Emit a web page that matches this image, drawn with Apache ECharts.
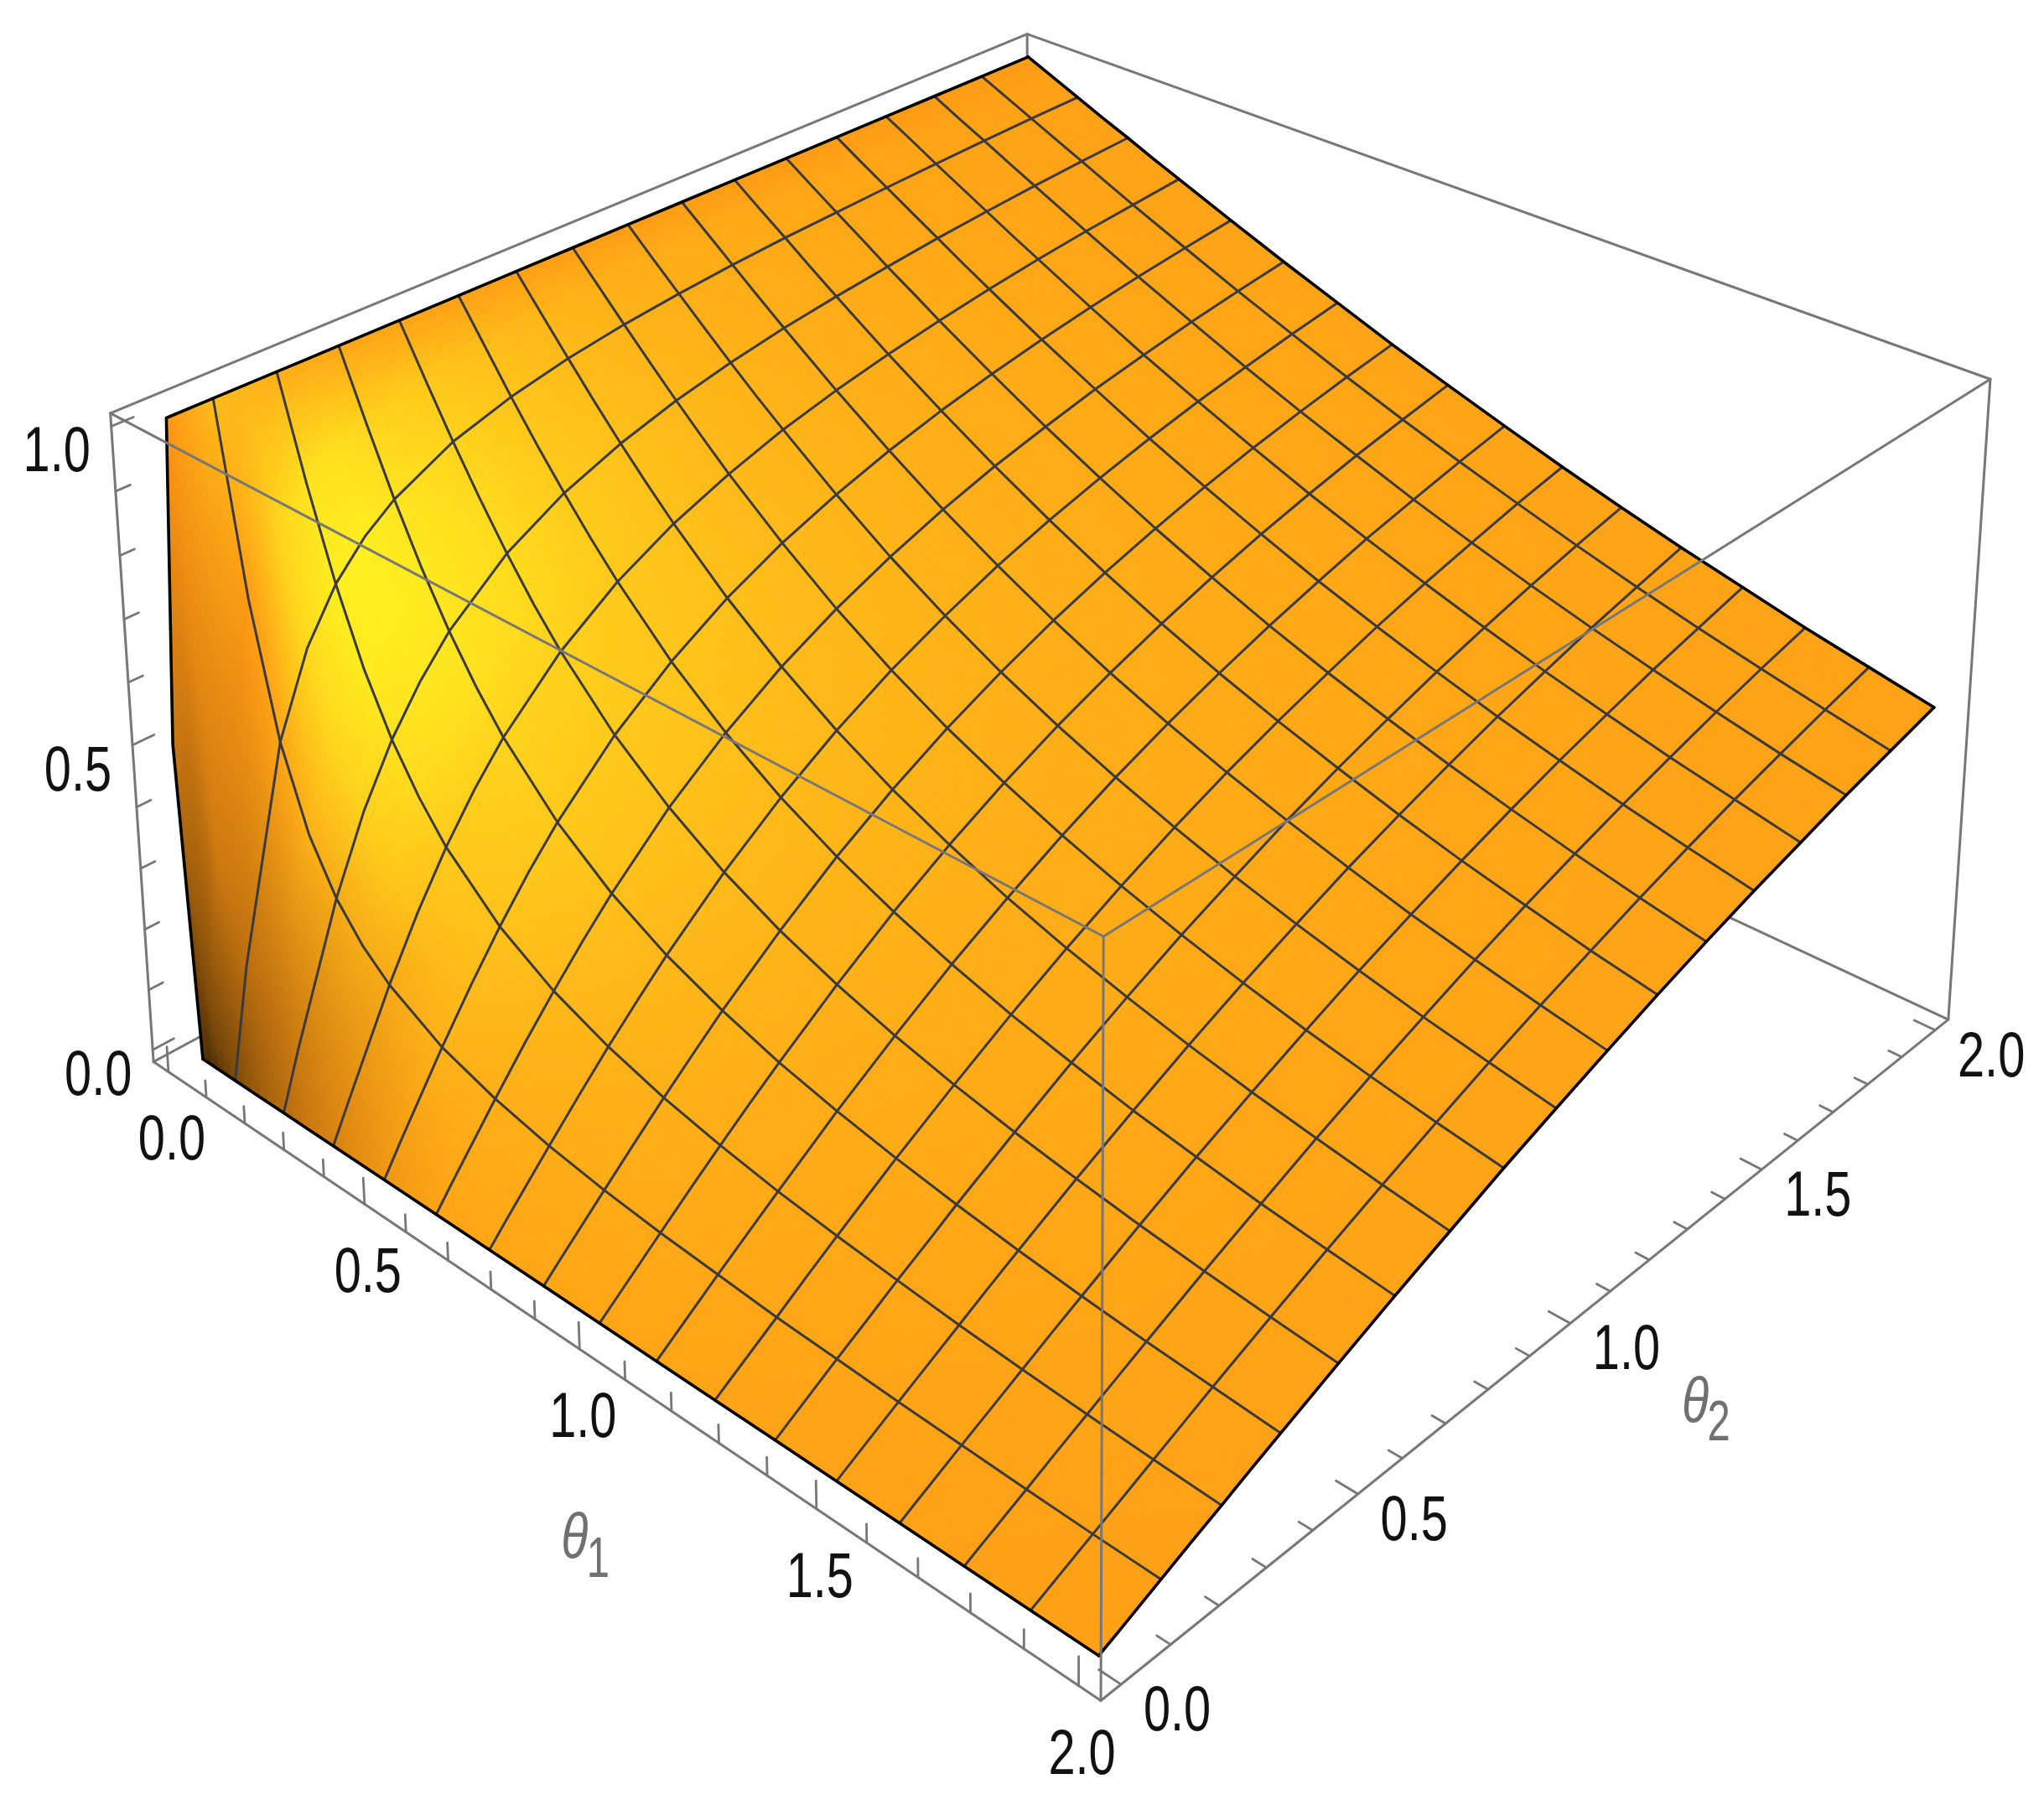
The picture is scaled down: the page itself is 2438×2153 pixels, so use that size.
<!DOCTYPE html>
<html><head><meta charset="utf-8"><style>html,body{margin:0;padding:0;background:#fff}#c{width:2438px;height:2153px}</style>
<script src="https://cdn.jsdelivr.net/npm/echarts@6/dist/echarts.min.js"></script></head>
<body><div id="c"></div>
<script>
// ---- values ----
const theta1Nodes=[0,0.0625,0.125,0.1875,0.25,0.3125,0.375,0.5,0.625,0.75,0.875,1,1.125,1.25,1.375,1.5,1.625,1.75,1.875,2];
const theta2Nodes=[0,0.005,0.035,0.125,0.1875,0.25,0.3125,0.375,0.5,0.625,0.75,0.875,1,1.125,1.25,1.375,1.5,1.625,1.75,1.875,2];
const edgeTheta1=[0.04,0.005,0];
const edgeShade=[.35,.8,1];
const surfaceZ=[
[0,0,0,0,0,0,0,0,0,0,0,0,0,0,0,0,0,0,0,0],
[.5,.051,.026,.017,.013,.01,.009,.006,.005,.004,.004,.003,.003,.003,.002,.002,.002,.002,.002,.002],
[1,.325,.174,.118,.089,.071,.059,.045,.036,.03,.026,.022,.02,.018,.016,.015,.014,.013,.012,.011],
[1,.705,.5,.374,.295,.242,.205,.156,.126,.105,.09,.079,.071,.063,.058,.053,.049,.045,.042,.04],
[1,.795,.626,.5,.41,.344,.295,.228,.186,.156,.134,.118,.105,.095,.086,.079,.073,.068,.063,.06],
[1,.844,.705,.59,.5,.43,.374,.295,.242,.205,.177,.156,.139,.126,.115,.105,.097,.09,.084,.079],
[1,.874,.758,.656,.57,.5,.442,.356,.295,.251,.218,.193,.172,.156,.142,.131,.121,.112,.105,.099],
[1,.895,.795,.705,.626,.558,.5,.41,.344,.295,.258,.228,.205,.186,.17,.156,.144,.134,.126,.118],
[1,.921,.844,.772,.705,.644,.59,.5,.43,.374,.33,.295,.266,.242,.222,.205,.19,.177,.166,.156],
[1,.937,.874,.814,.758,.705,.656,.57,.5,.442,.395,.356,.323,.295,.272,.251,.234,.218,.205,.193],
[1,.947,.895,.844,.795,.749,.705,.626,.558,.5,.451,.41,.374,.344,.318,.295,.275,.258,.242,.228],
[1,.955,.91,.866,.823,.782,.742,.67,.605,.549,.5,.458,.421,.389,.361,.336,.314,.295,.278,.263],
[1,.96,.921,.882,.844,.807,.772,.705,.644,.59,.542,.5,.463,.43,.4,.374,.351,.33,.312,.295],
[1,.965,.93,.895,.861,.828,.795,.734,.677,.626,.579,.537,.5,.467,.437,.41,.385,.364,.344,.326],
[1,.968,.937,.905,.874,.844,.814,.758,.705,.656,.611,.57,.533,.5,.47,.442,.417,.395,.374,.356],
[1,.971,.942,.914,.885,.858,.83,.778,.728,.682,.639,.6,.563,.53,.5,.472,.447,.424,.403,.384],
[1,.973,.947,.921,.895,.869,.844,.795,.749,.705,.664,.626,.59,.558,.528,.5,.475,.451,.43,.41],
[1,.976,.951,.927,.903,.879,.856,.81,.766,.725,.686,.649,.615,.583,.553,.525,.5,.476,.455,.434],
[1,.977,.955,.932,.91,.888,.866,.823,.782,.742,.705,.67,.636,.605,.576,.549,.524,.5,.478,.458],
[1,.979,.958,.937,.916,.895,.874,.834,.795,.758,.722,.688,.656,.626,.597,.57,.545,.522,.5,.479],
[1,.98,.96,.94,.921,.901,.882,.844,.807,.772,.737,.705,.674,.644,.616,.59,.566,.542,.521,.5]
];
const meshValues=[.125,.25,.375,.5,.625,.75,.875,1,1.125,1.25,1.375,1.5,1.625,1.75,1.875];
const theta1TickLabels=['0.0','0.5','1.0','1.5','2.0'];
const theta2TickLabels=['0.0','0.5','1.0','1.5','2.0'];
const zTickLabels=['0.0','0.5','1.0'];
const minorTicksTheta=[.1,.2,.3,.4,.6,.7,.8,.9,1.1,1.2,1.3,1.4,1.6,1.7,1.8,1.9];
const minorTicksZ=[.1,.2,.3,.4,.6,.7,.8,.9];

// ---- view ----
const T0=-0.04,T1=2.04,Z0=-0.02,Z1=1.02;
const cameraAnchors=[[0,0,0,183,1267],[0,0,1,132,492],[1,0,0,1313,2028],[1,0,1,1316,1118],[1,1,0,2324,1216],[1,1,1,2374,452],[0,1,1,1225,41]];
function fitCamera(a){
  const A=[],b=[];
  a.forEach(([u,v,w,X,Y])=>{X/=1000;Y/=1000;
    A.push([u,v,w,1,0,0,0,0,-X*u,-X*v,-X*w]);b.push(X);
    A.push([0,0,0,0,u,v,w,1,-Y*u,-Y*v,-Y*w]);b.push(Y);});
  const n=11,M=[];
  for(let i=0;i<n;i++){M.push([]);for(let j=0;j<=n;j++){let s=0;
    for(let r=0;r<A.length;r++)s+=A[r][i]*(j<n?A[r][j]:b[r]);M[i].push(s);}}
  for(let i=0;i<n;i++){let m=i;for(let r=i+1;r<n;r++)if(Math.abs(M[r][i])>Math.abs(M[m][i]))m=r;
    [M[i],M[m]]=[M[m],M[i]];
    for(let r=0;r<n;r++)if(r!==i){const f=M[r][i]/M[i][i];for(let j=i;j<=n;j++)M[r][j]-=f*M[i][j];}}
  return M.map((R,i)=>R[n]/R[i]);
}
const cam=fitCamera(cameraAnchors);
function project(t1,t2,z){
  const u=(t1-T0)/(T1-T0),v=(t2-T0)/(T1-T0),w=(z-Z0)/(Z1-Z0);
  const d=cam[8]*u+cam[9]*v+cam[10]*w+1;
  return [1000*(cam[0]*u+cam[1]*v+cam[2]*w+cam[3])/d,1000*(cam[4]*u+cam[5]*v+cam[6]*w+cam[7])/d];
}
const nodeT1=(r,c)=>c===0&&r<edgeTheta1.length?edgeTheta1[r]:theta1Nodes[c];
const nodeP=(r,c)=>[nodeT1(r,c),theta2Nodes[r],surfaceZ[r][c]];

// lit colour of a node from the local slope of the table
const nR=theta2Nodes.length,nC=theta1Nodes.length;
function nodeColor(r,c){
  const c0=Math.max(0,c-1),c1=Math.min(nC-1,c+1),r0=Math.max(0,r-1),r1=Math.min(nR-1,r+1);
  let p=(surfaceZ[r][c1]-surfaceZ[r][c0])/Math.max(1e-3,nodeT1(r,c1)-nodeT1(r,c0));
  const q=(surfaceZ[r1][c]-surfaceZ[r0][c])/Math.max(1e-3,theta2Nodes[r1]-theta2Nodes[r0]);
  if(c===0)p*=.3;
  const k=1/(1+Math.hypot(p,q)/9);
  const dx=p*k+1.45,dy=q*k-.7;
  const gl=Math.exp(-(dx*dx/1.6+dy*dy/(dy>0?1.5:.7)));
  let y=Math.min(1,Math.max(0,(gl-.12)*1.2));
  let m;
  if(c===0&&r<edgeShade.length)m=edgeShade[r];
  else m=1/(1+Math.max(0,q-Math.min(3.5,.9*Math.abs(p))-1)/4);
  y*=m*m*m;
  return [255*m,(150+88*y)*m,(20+12*y)*m];
}
const colors=theta2Nodes.map((_,r)=>theta1Nodes.map((_,c)=>nodeColor(r,c)));
const cells=[];
for(let r=nR-2;r>=0;r--)for(let c=0;c<nC-1;c++)cells.push([c,r]);

function renderCell(params,api){
  const c=api.value(0),r=api.value(1);
  const P=[nodeP(r,c),nodeP(r,c+1),nodeP(r+1,c+1),nodeP(r+1,c)];
  const C=[colors[r][c],colors[r][c+1],colors[r+1][c+1],colors[r+1][c]];
  const S=P.map(a=>project(a[0],a[1],a[2]));
  const span=Math.max(Math.hypot(S[0][0]-S[1][0],S[0][1]-S[1][1]),Math.hypot(S[1][0]-S[2][0],S[1][1]-S[2][1]),Math.hypot(S[2][0]-S[3][0],S[2][1]-S[3][1]),Math.hypot(S[3][0]-S[0][0],S[3][1]-S[0][1]));
  const n=Math.max(1,Math.min(24,Math.ceil(span/14)));
  const mix=(A,s,t,k)=>(1-s)*(1-t)*A[0][k]+s*(1-t)*A[1][k]+s*t*A[2][k]+(1-s)*t*A[3][k];
  const pt=(s,t)=>api.coord(project(mix(P,s,t,0),mix(P,s,t,1),mix(P,s,t,2)));
  const kids=[];
  for(let i=0;i<n;i++)for(let j=0;j<n;j++){
    const s=(i+.5)/n,t=(j+.5)/n;
    const col=`rgb(${Math.round(mix(C,s,t,0))},${Math.round(mix(C,s,t,1))},${Math.round(mix(C,s,t,2))})`;
    kids.push({type:'polygon',shape:{points:[pt(i/n,j/n),pt((i+1)/n,j/n),pt((i+1)/n,(j+1)/n),pt(i/n,(j+1)/n)]},style:{fill:col,stroke:col,lineWidth:1}});
  }
  return {type:'group',children:kids};
}
// mesh lines and outline
const meshSeg=[];
meshValues.forEach(m=>{
  const c=theta1Nodes.indexOf(m),r=theta2Nodes.indexOf(m);
  meshSeg.push(theta2Nodes.map((_,i)=>nodeP(i,c)));
  meshSeg.push(theta1Nodes.map((_,j)=>nodeP(r,j)));
});
const outlineSeg=[
  theta1Nodes.map((_,j)=>nodeP(0,j)),
  theta1Nodes.map((_,j)=>nodeP(nR-1,j)),
  theta2Nodes.map((_,i)=>nodeP(i,0)),
  theta2Nodes.map((_,i)=>nodeP(i,nC-1))
];
function lineRenderer(list,stroke,lw){
  return function(params,api){
    const seg=list[params.dataIndex];
    return {type:'polyline',shape:{points:seg.map(a=>api.coord(project(a[0],a[1],a[2])))},style:{fill:'none',stroke,lineWidth:lw,lineJoin:'round',lineCap:'round'}};
  };
}
const B=(a,b,c)=>[a?T1:T0,b?T1:T0,c?Z1:Z0];
const boxHidden=[[B(0,0,0),B(0,1,0)],[B(0,1,0),B(1,1,0)],[B(0,1,0),B(0,1,1)]];
const boxFront=[[B(0,0,1),B(0,1,1)],[B(0,1,1),B(1,1,1)],[B(0,0,1),B(1,0,1)],[B(1,0,1),B(1,1,1)],
  [B(0,0,1),B(0,0,0)],[B(1,1,1),B(1,1,0)],[B(1,0,1),B(1,0,0)],[B(0,0,0),B(1,0,0)],[B(1,0,0),B(1,1,0)]];
const tickLines=[];
theta1TickLabels.forEach(l=>{const t=+l;tickLines.push([[t,T0,Z0],[t,T0,Z0+.042]]);tickLines.push([[T1,t,Z0],[T1-.04,t,Z0]]);});
minorTicksTheta.forEach(t=>{tickLines.push([[t,T0,Z0],[t,T0,Z0+.028]]);tickLines.push([[T1,t,Z0],[T1-.025,t,Z0]]);});
zTickLabels.forEach(l=>{const z=+l;tickLines.push([[T0,T0,z],[T0,T0+.042,z]]);});
minorTicksZ.forEach(z=>{tickLines.push([[T0,T0,z],[T0,T0+.028,z]]);});

const LABEL_FONT='"Liberation Sans"';
const textLabels=[];
theta1TickLabels.forEach(l=>textLabels.push({p:[+l,T0,Z0],dx:4,dy:84,text:l}));
theta2TickLabels.forEach(l=>textLabels.push({p:[T1,+l,Z0],dx:67,dy:34,text:l}));
zTickLabels.forEach(l=>textLabels.push({p:[T0,T0,+l],dx:-65,dy:33,text:l}));
const labelEl=(pos,text,size,fill,family,italic,sx)=>({type:'text',x:pos[0],y:pos[1],scaleX:sx,style:{text,x:0,y:0,fontSize:size,fontFamily:family,fontStyle:italic?'italic':'normal',fill,align:'center',verticalAlign:'middle'}});
const titles=[{sym:'\u03b8',sub:'1',p:[1,T0,Z0],dx:-6,dy:228},{sym:'\u03b8',sub:'2',p:[T1,1,Z0],dx:149,dy:96}];

const xy=a=>a.map((_,i)=>[i,0]);
const base={type:'custom',coordinateSystem:'cartesian2d',clip:false,silent:true,animation:false,encode:{x:0,y:1},tooltip:{show:false}};
const chart=echarts.init(document.getElementById('c'),null,{renderer:'canvas',width:2438,height:2153});
chart.setOption({
  animation:false,backgroundColor:'#fff',
  grid:{left:0,right:0,top:0,bottom:0,containLabel:false},
  xAxis:{type:'value',min:0,max:2438,show:false},
  yAxis:{type:'value',min:0,max:2153,inverse:true,show:false},
  series:[
   {...base,name:'box back',z:1,data:xy(boxHidden),renderItem:lineRenderer(boxHidden,'#777',3)},
   {...base,name:'surface',z:2,data:cells,renderItem:renderCell,progressive:0},
   {...base,name:'mesh',z:3,data:xy(meshSeg),renderItem:lineRenderer(meshSeg,'#3a3a3a',3)},
   {...base,name:'outline',z:4,data:xy(outlineSeg),renderItem:lineRenderer(outlineSeg,'#000',3.6)},
   {...base,name:'box front',z:5,data:xy(boxFront),renderItem:lineRenderer(boxFront,'#777',3)},
   {...base,name:'ticks',z:5,data:xy(tickLines),renderItem:lineRenderer(tickLines,'#777',2.8)},
   {...base,name:'tick labels',z:6,data:xy(textLabels),renderItem(params,api){
      const L=textLabels[params.dataIndex];const s=project(L.p[0],L.p[1],L.p[2]);const c=api.coord([s[0]+L.dx,s[1]+L.dy]);
      return labelEl(c,L.text,76,'#111',LABEL_FONT,false,.76);}},
   {...base,name:'axis titles',z:6,data:xy(titles),renderItem(params,api){
      const L=titles[params.dataIndex];const s=project(L.p[0],L.p[1],L.p[2]);const c=api.coord([s[0]+L.dx,s[1]+L.dy]);
      return {type:'group',children:[labelEl(c,L.sym,76,'#707070',LABEL_FONT,true,.78),labelEl([c[0]+28,c[1]+25],L.sub,68,'#707070',LABEL_FONT,false,.72)]};}}
  ]
});
</script></body></html>
